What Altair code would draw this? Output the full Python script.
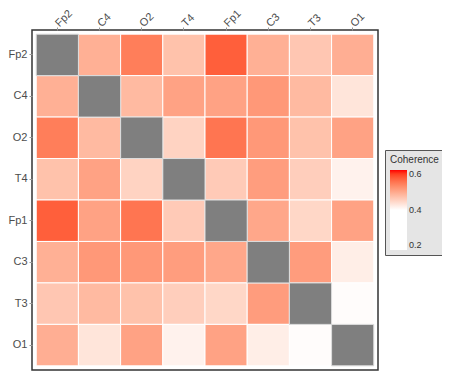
import altair as alt
import pandas as pd

channels = ["Fp2", "C4", "O2", "T4", "Fp1", "C3", "T3", "O1"]

row_Fp2 = [None, 0.483, 0.532, 0.465, 0.558, 0.483, 0.46, 0.485]
row_C4 = [0.483, None, 0.473, 0.497, 0.497, 0.507, 0.473, 0.428]
row_O2 = [0.532, 0.473, None, 0.447, 0.54, 0.507, 0.465, 0.497]
row_T4 = [0.465, 0.497, 0.447, None, 0.456, 0.502, 0.452, 0.414]
row_Fp1 = [0.558, 0.497, 0.54, 0.456, None, 0.492, 0.443, 0.497]
row_C3 = [0.483, 0.507, 0.507, 0.502, 0.492, None, 0.503, 0.418]
row_T3 = [0.46, 0.473, 0.465, 0.452, 0.443, 0.503, None, 0.403]
row_O1 = [0.485, 0.428, 0.497, 0.414, 0.497, 0.418, 0.403, None]

legend_values = [0.2, 0.4, 0.6]

rows = [row_Fp2, row_C4, row_O2, row_T4, row_Fp1, row_C3, row_T3, row_O1]
records = []
for r, vals in zip(channels, rows):
    for c, v in zip(channels, vals):
        records.append({"row": r, "col": c, "value": v, "diag": r == c})
df = pd.DataFrame(records)

x = alt.X("col:N", sort=channels, title=None,
          scale=alt.Scale(paddingInner=0, paddingOuter=0.1),
          axis=alt.Axis(orient="top", labelAngle=315, labelAlign="left",
                        labelBaseline="middle", labelPadding=2))
y = alt.Y("row:N", sort=channels, title=None,
          scale=alt.Scale(paddingInner=0, paddingOuter=0.1),
          axis=alt.Axis(labelPadding=2))

heat = alt.Chart(df).transform_filter("!datum.diag").mark_rect(
    stroke="white", strokeWidth=1
).encode(
    x=x, y=y,
    color=alt.Color("value:Q", title="Coherence",
                    scale=alt.Scale(domain=[0.2, 0.4, 0.6],
                                    range=["#FFFFFF", "#FFFFFF", "#FF0000"],
                                    interpolate="lab"),
                    legend=alt.Legend(values=legend_values, orient="none",
                                      legendX=353, legendY=120,
                                      gradientLength=80, gradientThickness=17,
                                      direction="vertical"))
)

diag = alt.Chart(df).transform_filter("datum.diag").mark_rect(
    stroke="#DDDDDD", strokeWidth=1, color="#7F7F7F"
).encode(x=x, y=y)

chart = alt.layer(heat, diag).properties(
    width=346, height=340,
    autosize=alt.AutoSizeParams(type="none"),
    padding={"left": 24, "top": 22, "right": 64, "bottom": 1},
).configure_view(
    stroke="#333333", strokeWidth=1.5
).configure_axis(
    domain=False, ticks=True, tickColor="#999999", tickSize=3,
    labelColor="#4D4D4D", labelFont="Liberation Sans", labelFontSize=11,
    grid=False
).configure_legend(
    fillColor="#E5E5E5", strokeColor="#555555", padding=5,
    titleFont="Liberation Sans", titleFontSize=10, titleFontWeight="normal",
    titleColor="#333333", labelFont="Liberation Sans", labelFontSize=9,
    labelColor="#333333", gradientStrokeWidth=0
)

chart.save("out.html", embed_options={"renderer": "svg", "actions": False})
